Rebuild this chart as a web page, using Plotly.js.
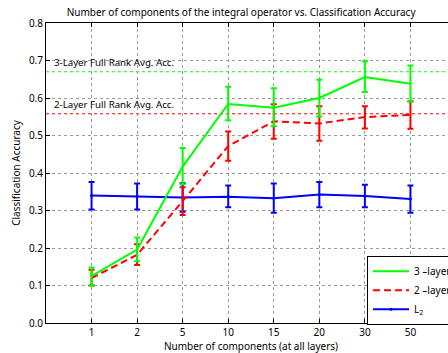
<!DOCTYPE html>
<html>
<head>
<meta charset="utf-8">
<script src="https://cdn.plot.ly/plotly-3.0.1.min.js"></script>
<style>html,body{margin:0;padding:0;overflow:hidden;background:#fff;width:448px;height:353px;}</style>
</head>
<body>
<div id="chart" style="width:470px;height:353px;"></div>
<script>
const components = ['1', '2', '5', '10', '15', '20', '30', '50'];

const acc3 = [0.125, 0.196, 0.417, 0.584, 0.574, 0.600, 0.656, 0.638];
const acc3Up = [0.023, 0.032, 0.050, 0.046, 0.052, 0.049, 0.042, 0.049];
const acc3Dn = [0.025, 0.031, 0.047, 0.043, 0.049, 0.049, 0.040, 0.047];

const acc2 = [0.120, 0.182, 0.325, 0.472, 0.538, 0.532, 0.549, 0.555];
const acc2Up = [0.022, 0.028, 0.037, 0.039, 0.045, 0.046, 0.029, 0.036];
const acc2Dn = [0.020, 0.027, 0.037, 0.039, 0.047, 0.046, 0.030, 0.037];

const accL2 = [0.340, 0.338, 0.335, 0.337, 0.333, 0.343, 0.339, 0.331];
const accL2Up = [0.036, 0.034, 0.038, 0.030, 0.039, 0.033, 0.030, 0.036];
const accL2Dn = [0.037, 0.035, 0.038, 0.028, 0.039, 0.034, 0.030, 0.037];

const fullRank3 = 0.670;
const fullRank2 = 0.558;

const FONT = 'Noto Sans, Open Sans, sans-serif';

const traces = [
  {
    x: components, y: accL2, type: 'scatter', mode: 'lines+markers', name: 'L<sub>2</sub>',
    line: {color: '#0000ff', width: 2}, marker: {color: '#0000ff', size: 3},
    error_y: {type: 'data', symmetric: false, array: accL2Up, arrayminus: accL2Dn, color: '#0000ff', thickness: 2, width: 3}
  },
  {
    x: components, y: acc2, type: 'scatter', mode: 'lines', name: '2 \u2013layer',
    line: {color: '#ff0000', width: 2, dash: '7px,4px'},
    error_y: {type: 'data', symmetric: false, array: acc2Up, arrayminus: acc2Dn, color: '#ff0000', thickness: 2, width: 3}
  },
  {
    x: components, y: acc3, type: 'scatter', mode: 'lines', name: '3 \u2013layer',
    line: {color: '#00ff00', width: 2},
    error_y: {type: 'data', symmetric: false, array: acc3Up, arrayminus: acc3Dn, color: '#00ff00', thickness: 2, width: 3}
  }
];

const layout = {
  width: 470, height: 353,
  margin: {l: 46, r: 14, t: 23, b: 30, pad: 0},
  paper_bgcolor: '#fff', plot_bgcolor: '#fff',
  font: {family: FONT, size: 10, color: '#000'},
  title: {text: 'Number of components of the integral operator vs. Classification Accuracy',
          font: {family: FONT, size: 10, color: '#000'},
          x: 0.513, xanchor: 'center', y: 0.966, yanchor: 'middle', yref: 'container'},
  showlegend: true,
  legend: {x: 0.783, y: 0.224, xanchor: 'left', yanchor: 'top', bgcolor: '#fff',
           bordercolor: '#000', borderwidth: 1, traceorder: 'reversed',
           font: {family: FONT, size: 10, color: '#000'}, itemwidth: 36, tracegroupgap: 0},
  xaxis: {
    type: 'category', categoryorder: 'array', categoryarray: components,
    range: [-1, 8], showline: true, linecolor: '#000', linewidth: 1, mirror: 'ticks',
    ticks: 'inside', ticklen: 4, tickcolor: '#000',
    showgrid: true, gridcolor: '#999', griddash: 'dot', gridwidth: 1, zeroline: false,
    tickfont: {family: FONT, size: 10, color: '#000'},
    title: {text: 'Number of components (at all layers)', standoff: 3, font: {family: FONT, size: 10, color: '#000'}}
  },
  yaxis: {
    range: [0, 0.8], dtick: 0.1, tickformat: '.1f',
    showline: true, linecolor: '#000', linewidth: 1, mirror: 'ticks',
    ticks: 'inside', ticklen: 4, tickcolor: '#000',
    showgrid: true, gridcolor: '#999', griddash: 'dot', gridwidth: 1, zeroline: false,
    tickfont: {family: FONT, size: 10, color: '#000'},
    title: {text: 'Classification Accuracy', standoff: 6, font: {family: FONT, size: 10, color: '#000'}}
  },
  shapes: [
    {type: 'line', xref: 'paper', yref: 'y', x0: 0, x1: 1, y0: fullRank3, y1: fullRank3,
     line: {color: '#00ff00', width: 1.2, dash: 'dot'}, layer: 'below'},
    {type: 'line', xref: 'paper', yref: 'y', x0: 0, x1: 1, y0: fullRank2, y1: fullRank2,
     line: {color: '#ff0000', width: 1.2, dash: 'dot'}, layer: 'below'}
  ],
  annotations: [
    {xref: 'paper', yref: 'y', x: 0.015, y: fullRank3, xanchor: 'left', yanchor: 'bottom',
     text: '3-Layer Full Rank Avg. Acc.', showarrow: false, font: {family: FONT, size: 9.7, color: '#000'}, yshift: 1},
    {xref: 'paper', yref: 'y', x: 0.015, y: fullRank2, xanchor: 'left', yanchor: 'bottom',
     text: '2-Layer Full Rank Avg. Acc.', showarrow: false, font: {family: FONT, size: 9.7, color: '#000'}, yshift: 1}
  ]
};

Plotly.newPlot('chart', traces, layout, {displayModeBar: false, staticPlot: true});
</script>
</body>
</html>
